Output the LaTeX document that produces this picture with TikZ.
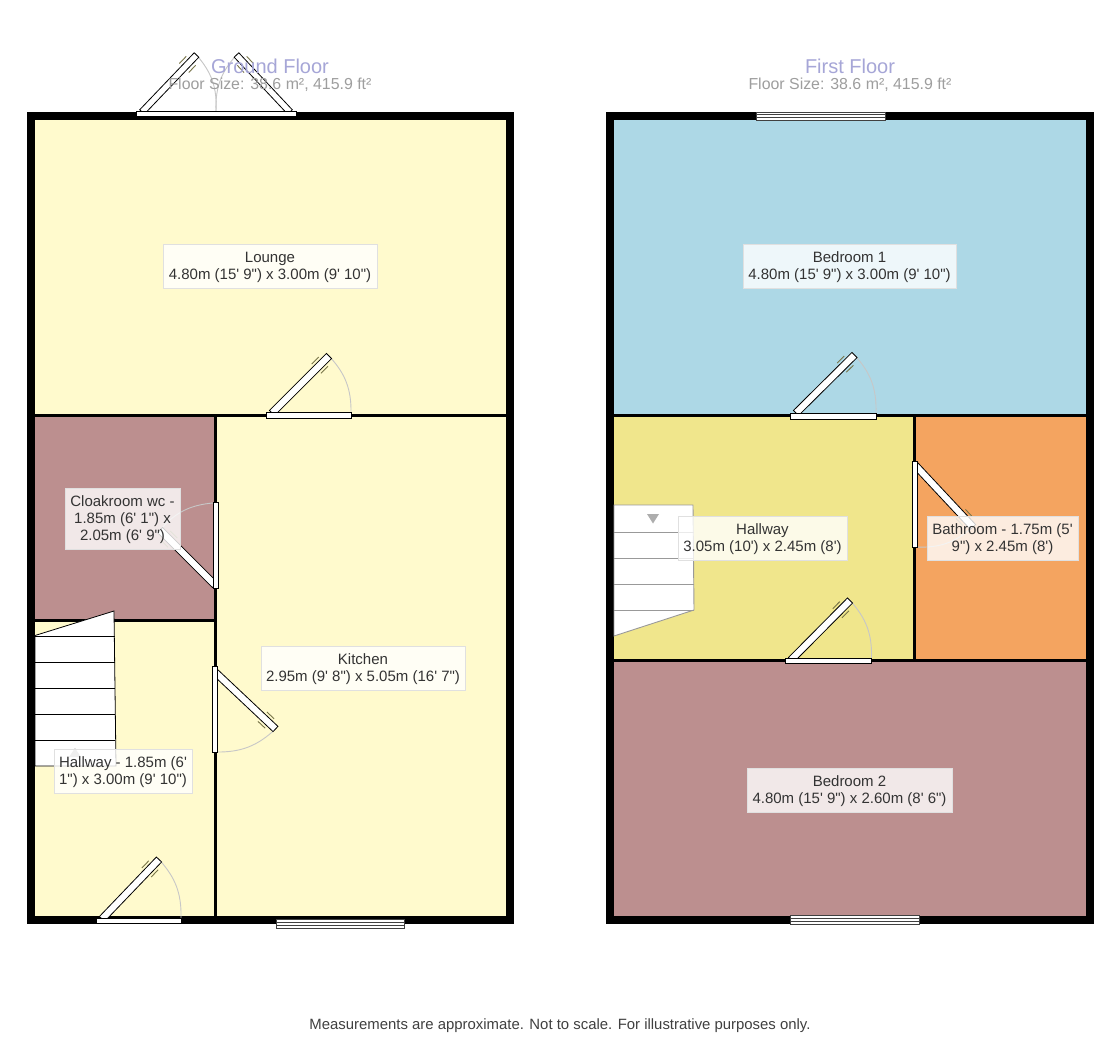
\documentclass[tikz,border=0pt]{standalone}
\usepackage{fontspec}
\usetikzlibrary{calc}
\newfontfamily\lab{Liberation Sans}
\definecolor{lemon}{HTML}{FFFACD}
\definecolor{rosy}{HTML}{BC8F8F}
\definecolor{skyb}{HTML}{ADD8E6}
\definecolor{khakiy}{HTML}{F0E68C}
\definecolor{sandy}{HTML}{F4A460}
\tikzset{
  inwall/.style={line width=3pt,black},
  frameb/.style={draw=black,fill=white,line width=.9pt},
  leafb/.style={draw=black,fill=white,line width=.8pt,line join=miter},
  grip/.style={draw=black!60!yellow,line width=.9pt},
  swing/.style={draw=black!22,line width=.9pt},
  stairb/.style={draw=black,fill=white,line width=.8pt},
  stairg/.style={draw=black!40,fill=white,line width=.9pt},
  tread/.style={draw=black,line width=.8pt},
  treadg/.style={draw=black!40,line width=.9pt},
  arrowg/.style={fill=black!32,draw=none},
  tag/.style={draw=black!12,line width=.6pt,fill=white,fill opacity=.8,text opacity=1,inner sep=0pt,align=center,
    font=\lab\fontsize{15}{17}\selectfont,text=black!80,text depth=-0.6pt},
  ttl/.style={inner sep=0pt,text=blue!55!black!35!white,font=\lab\fontsize{20}{22}\selectfont},
  subttl/.style={inner sep=0pt,text=black!38,font=\lab\fontsize{15.9}{18}\selectfont},
  foot/.style={inner sep=0pt,text=black!75,font=\lab\fontsize{14.9}{17}\selectfont},
}
% hinge, tip, half width, arc start, bend direction
\newcommand{\leafdoor}[5]{%
  \coordinate (Ha) at (#1);\coordinate (Ti) at (#2);
  \draw[swing] (#4) to[#5=22] (Ti);
  \draw[leafb] ($(Ha)!#3pt!90:(Ti)$) -- ($(Ti)!#3pt!-90:(Ha)$) -- ($(Ti)!#3pt!90:(Ha)$) -- ($(Ha)!#3pt!-90:(Ti)$) -- cycle;
  \coordinate (Ga) at ($(Ti)!8pt!(Ha)$);\coordinate (Gb) at ($(Ti)!18pt!(Ha)$);
  \draw[grip] ($(Ga)!6.5pt!90:(Ha)$) -- ($(Gb)!6.5pt!-90:(Ti)$);
  \draw[grip] ($(Ga)!6.5pt!-90:(Ha)$) -- ($(Gb)!6.5pt!90:(Ti)$);
}
\newcommand{\glazing}[4]{%
  \fill[white] (#1,#2) rectangle (#3,#4);
  \draw[black!75,line width=.9pt] (#1,#2) rectangle (#3,#4);
  \draw[black!75,line width=.9pt] (#1,{#2+(#4-#2)/3}) -- (#3,{#2+(#4-#2)/3});
  \draw[black!75,line width=.9pt] (#1,{#2+2*(#4-#2)/3}) -- (#3,{#2+2*(#4-#2)/3});
}
\begin{document}
\begin{tikzpicture}[x=1pt,y=-1pt]
\useasboundingbox (0,0) rectangle (1120,1062);
\fill[white] (0,0) rectangle (1120,1062);
% ---------- Ground floor shell and rooms
\fill[black] (27,112) rectangle (514,924);
\fill[lemon] (35,120) rectangle (506,916);
\fill[rosy] (35,415) rectangle (215,620);
\draw[inwall] (35,415) -- (506,415);
\draw[inwall] (215,415) -- (215,916);
\draw[inwall] (35,620) -- (215,620);
% ---------- First floor shell and rooms
\fill[black] (606,112) rectangle (1094,924);
\fill[skyb] (614,120) rectangle (1086,415);
\fill[khakiy] (614,415) rectangle (915,660);
\fill[sandy] (915,415) rectangle (1086,660);
\fill[rosy] (614,660) rectangle (1086,916);
\draw[inwall] (614,415) -- (1086,415);
\draw[inwall] (914.5,415) -- (914.5,660);
\draw[inwall] (614,660) -- (1086,660);
% ---------- Windows
\glazing{276}{919.5}{404.5}{928.5}
\glazing{756}{112}{885}{120}
\glazing{790.5}{915.5}{919}{924.5}
% ---------- Stairs, ground
\draw[stairb] (35,635.5) -- (114,611) -- (116,766) -- (35,766) -- cycle;
\foreach \yy in {636,662,688,714,740}{\draw[tread] (35,\yy) -- (115,\yy);}
\fill[arrowg] (75,748) -- (81,757) -- (69,757) -- cycle;
% ---------- Stairs, first
\draw[stairg] (614,505) -- (693,505) -- (694,610) -- (614,636) -- cycle;
\foreach \yy in {532,558,584,610}{\draw[treadg] (614,\yy) -- (693.5,\yy);}
\fill[arrowg] (647,514) -- (659,514) -- (653,523.5) -- cycle;
% ---------- Doors, ground
\leafdoor{142,112}{196.5,55}{3.2}{216,111}{bend right}
\leafdoor{290,112}{236.5,55}{3.2}{216,111}{bend left}
\draw[frameb] (136,111) rectangle (296,116);
\leafdoor{272,413}{329,356}{3.6}{351,413}{bend right}
\draw[frameb] (266,412.5) rectangle (351,418);
\leafdoor{215,585}{160,530}{3.6}{213,503}{bend right}
\draw[frameb] (213,502) rectangle (218.5,588);
\leafdoor{215,672}{275.5,729}{3.6}{216,752}{bend right}
\draw[frameb] (212,666) rectangle (217.5,752);
\leafdoor{102,919}{159,859.5}{3.6}{181,918}{bend right}
\draw[frameb] (96,918) rectangle (181,923.5);
% ---------- Doors, first
\leafdoor{796,413}{854.5,355}{3.6}{876,413}{bend right}
\draw[frameb] (790.5,413) rectangle (876.5,419);
\leafdoor{915,465}{973,527}{3.6}{915,547}{bend right}
\draw[frameb] (912,461) rectangle (917.5,547);
\leafdoor{791,660}{850,600.5}{3.6}{871.5,658}{bend right}
\draw[frameb] (785.5,658) rectangle (871.5,663.5);
% ---------- Labels
\node[tag,minimum width=214pt,minimum height=44pt] (lounge) at (270,266) {Lounge\\4.80m (15' 9") x 3.00m (9' 10")};
\node[tag,minimum width=115pt,minimum height=61pt] (cloak) at (122.5,518.5) {Cloakroom wc -\\1.85m (6' 1") x\\2.05m (6' 9")};
\node[tag,minimum width=204pt,minimum height=44pt] (kitchen) at (363,668) {Kitchen\\2.95m (9' 8") x 5.05m (16' 7")};
\node[tag,minimum width=138pt,minimum height=44pt] (hallg) at (123,771) {Hallway - 1.85m (6'\\1") x 3.00m (9' 10")};
\node[tag,minimum width=213pt,minimum height=44pt] (bed1) at (849.5,266) {Bedroom 1\\4.80m (15' 9") x 3.00m (9' 10")};
\node[tag,minimum width=169pt,minimum height=44pt] (hallf) at (762.5,538) {Hallway\\3.05m (10') x 2.45m (8')};
\node[tag,minimum width=151pt,minimum height=44pt] (bath) at (1002.5,538) {Bathroom - 1.75m (5'\\9") x 2.45m (8')};
\node[tag,minimum width=205pt,minimum height=44pt] (bed2) at (849.5,790) {Bedroom 2\\4.80m (15' 9") x 2.60m (8' 6")};
% ---------- Titles
\node[ttl] (gt) at (270,66) {Ground Floor};
\node[subttl] (gs) at (270,84.5) {Floor Size: 38.6 m², 415.9 ft²};
\node[ttl] (ft) at (850,66) {First Floor};
\node[subttl] (fs) at (850,84.5) {Floor Size: 38.6 m², 415.9 ft²};
\node[foot] (note) at (560,1025.5) {Measurements are approximate. Not to scale. For illustrative purposes only.};
\end{tikzpicture}
\end{document}
